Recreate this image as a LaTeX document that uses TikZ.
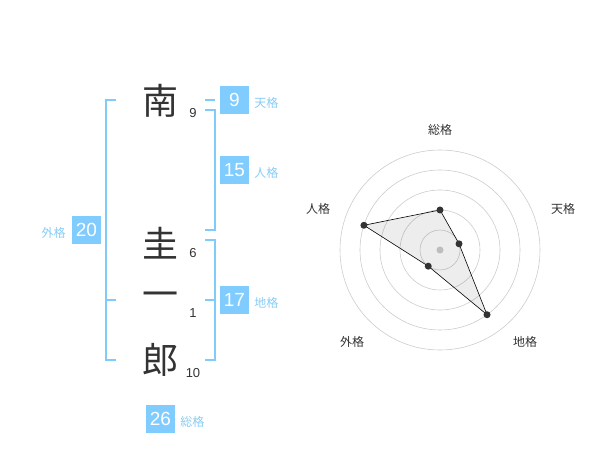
\documentclass[tikz,border=0pt]{standalone}
\usepackage{fontspec}
\usetikzlibrary{calc}
\setmainfont{Liberation Sans}
\newfontfamily\cjk{Noto Sans CJK JP}
\definecolor{bbox}{HTML}{80CCFF}
\definecolor{blbl}{HTML}{88CCF5}
\definecolor{brk}{HTML}{7FCBFA}
\definecolor{ink}{HTML}{333333}
\definecolor{ring}{HTML}{CCCCCC}
\tikzset{
  bigch/.style={font=\cjk\fontsize{36}{36}\selectfont, text=ink, inner sep=0pt},
  stroke/.style={font=\fontsize{13}{13}\selectfont, text=ink, inner sep=0pt},
  valbox/.style={fill=bbox, text=white, font=\fontsize{19}{19}\selectfont, minimum width=29pt, minimum height=28pt, inner sep=0pt},
  kaku/.style={text=blbl, font=\cjk\fontsize{12}{12}\selectfont, inner sep=0pt},
  bracket/.style={draw=brk, line width=1.8pt},
  radlbl/.style={text=ink, font=\cjk\fontsize{12}{12}\selectfont, inner sep=0pt},
  vdot/.style={circle, fill=ink, inner sep=0pt, minimum size=7pt},
}
\begin{document}
\begin{tikzpicture}[x=1pt,y=-1pt]
\useasboundingbox (0,0) rectangle (600,470);
% characters
\node[bigch] (c1) at (160,101) {南};
\node[bigch] (c2) at (160,243) {圭};
\node[bigch] (c3) at (160,300) {一};
\node[bigch] (c4) at (160,360) {郎};
\node[stroke] (s1) at (193,113) {9};
\node[stroke] (s2) at (193,253) {6};
\node[stroke] (s3) at (193,313) {1};
\node[stroke] (s4) at (193,373) {10};
% brackets
\draw[bracket] (116,100) -- (106,100) -- (106,360) -- (116,360);
\draw[bracket] (106,300) -- (116,300);
\draw[bracket] (205,100) -- (215,100);
\draw[bracket] (205,110) -- (215,110) -- (215,230) -- (205,230);
\draw[bracket] (205,240) -- (215,240) -- (215,360) -- (205,360);
\draw[bracket] (205,300) -- (215,300);
% value boxes
\node[valbox] (ten) at (234.5,100) {9};
\node[kaku, anchor=west] (tenl) at ([xshift=5pt,yshift=-3pt]ten.east) {天格};
\node[valbox] (jin) at (234.5,170) {15};
\node[kaku, anchor=west] (jinl) at ([xshift=5pt,yshift=-3pt]jin.east) {人格};
\node[valbox] (chi) at (234.5,300) {17};
\node[kaku, anchor=west] (chil) at ([xshift=5pt,yshift=-3pt]chi.east) {地格};
\node[valbox] (gai) at (86.5,230) {20};
\node[kaku, anchor=east] (gail) at ([xshift=-6pt,yshift=-3pt]gai.west) {外格};
\node[valbox] (sou) at (160.5,419) {26};
\node[kaku, anchor=west] (soul) at ([xshift=5pt,yshift=-3pt]sou.east) {総格};
% radar chart
\coordinate (ctr) at (440,250);
\foreach \r in {20,40,60,80,100} \draw[ring, line width=0.6pt] (ctr) circle[radius=\r];
\fill[ring] (ctr) circle[radius=3.5];
\coordinate (pSou) at ($(ctr)+(0,-40)$);
\coordinate (pTen) at ($(ctr)+({20*cos(18)},{-20*sin(18)})$);
\coordinate (pChi) at ($(ctr)+({80*cos(54)},{80*sin(54)})$);
\coordinate (pGai) at ($(ctr)+({-20*cos(54)},{20*sin(54)})$);
\coordinate (pJin) at ($(ctr)+({-80*cos(18)},{-80*sin(18)})$);
\fill[black, opacity=0.07] (pSou) -- (pTen) -- (pChi) -- (pGai) -- (pJin) -- cycle;
\draw[black, line width=0.6pt] (pSou) -- (pTen) -- (pChi) -- (pGai) -- (pJin) -- cycle;
\foreach \p in {pSou,pTen,pChi,pGai,pJin} \node[vdot] at (\p) {};
\node[radlbl] (rSou) at (440,130) {総格};
\node[radlbl] (rTen) at (563,209) {天格};
\node[radlbl] (rJin) at (318,209) {人格};
\node[radlbl] (rGai) at (352,342) {外格};
\node[radlbl] (rChi) at (525,342) {地格};
\end{tikzpicture}
\end{document}
